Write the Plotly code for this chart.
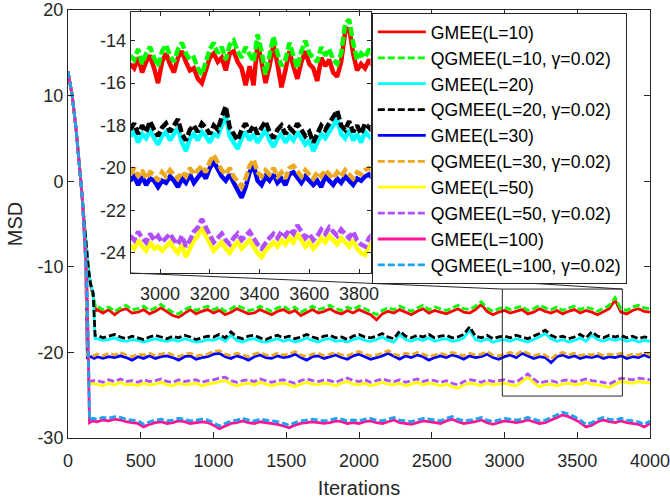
import plotly.graph_objects as go

FONT = "Liberation Sans, Arial, Helvetica, sans-serif"
AXC = "#262626"

# ---------------- data ----------------
main_iters = list(range(200, 4001, 40))      # steady-state samples (main axes)
inset_iters = list(range(2880, 3857, 16))    # finer samples (inset axes)

# transient part (iterations, values)
tr_x_10 = [0, 28, 55, 78, 96, 110, 125, 140, 155, 173, 190]
gmee10_tr = [12.8, 10.1, 6.2, 2.3, -1.5, -4.5, -7.5, -10.2, -12.0, -13.4, -15.2]
qgmee10_tr = [12.8, 10.1, 6.2, 2.3, -1.5, -4.5, -7.5, -10.2, -12.0, -13.3, -14.7]
tr_x_20 = [0, 28, 55, 78, 96, 110, 125, 140, 155, 173, 186]
gmee20_tr = [12.8, 10.1, 6.2, 2.3, -1.5, -4.5, -7.5, -10.2, -12.0, -13.1, -18.4]
qgmee20_tr = [12.8, 10.1, 6.2, 2.3, -1.5, -4.5, -7.5, -10.2, -12.0, -13.1, -18.0]
tr_x_30 = [0, 28, 55, 78, 96, 110, 121, 133, 160, 180]
gmee30_tr = [12.8, 10.1, 6.2, 2.3, -1.5, -5.4, -9.3, -20.6, -20.5, -20.7]
qgmee30_tr = [12.8, 10.1, 6.2, 2.3, -1.5, -5.4, -9.3, -20.3, -20.2, -20.4]
tr_x_50 = [0, 28, 55, 78, 96, 110, 121, 135, 145, 170]
gmee50_tr = [12.8, 10.1, 6.2, 2.3, -1.5, -5.4, -9.3, -16.5, -23.8, -23.6]
qgmee50_tr = [12.8, 10.1, 6.2, 2.3, -1.5, -5.4, -9.3, -16.3, -23.4, -23.3]
tr_x_100 = [0, 28, 55, 78, 96, 110, 121, 130, 148, 170]
gmee100_tr = [12.8, 10.1, 6.2, 2.3, -1.5, -5.4, -9.3, -12.0, -28.2, -28.0]
qgmee100_tr = [12.8, 10.1, 6.2, 2.3, -1.5, -5.4, -9.3, -12.0, -27.9, -27.7]

# steady state, main axes (iterations 200..4000 step 40)
qgmee10_main = [
    -14.6, -15.0, -14.7, -15.2, -14.8, -14.5, -15.0, -14.9, -14.6, -15.1,
    -14.8, -14.4, -14.9, -15.3, -15.5, -15.0, -14.7, -15.1, -14.8, -14.6,
    -15.0, -14.7, -15.2, -14.9, -14.5, -14.8, -15.1, -15.0, -14.6, -14.9,
    -15.2, -14.8, -14.6, -15.0, -14.7, -15.3, -14.9, -14.6, -15.0, -14.8,
    -14.5, -14.9, -15.1, -14.7, -15.0, -14.6, -14.9, -15.2, -15.6, -15.1,
    -14.8, -15.0, -14.6, -14.9, -15.2, -14.8, -14.5, -15.0, -14.7, -14.9,
    -15.1, -14.8, -14.5, -14.9, -15.0, -14.6, -14.1, -14.8, -15.2, -14.9,
    -14.7, -15.0, -14.8, -14.6, -15.1, -14.9, -14.5, -14.8, -15.0, -14.7,
    -15.1, -14.8, -14.6, -15.0, -14.7, -14.9, -15.2, -14.8, -14.5, -13.6,
    -14.9, -15.1, -14.7, -14.5, -14.8, -14.9]
gmee10_main = [
    -15.0, -15.4, -15.0, -15.6, -15.1, -14.9, -15.4, -15.3, -15.0, -15.5,
    -15.2, -14.8, -15.3, -15.7, -15.9, -15.4, -15.0, -15.5, -15.2, -15.0,
    -15.4, -15.1, -15.6, -15.3, -14.9, -15.2, -15.5, -15.4, -15.0, -15.3,
    -15.6, -15.2, -15.0, -15.4, -15.1, -15.7, -15.3, -15.0, -15.4, -15.2,
    -14.9, -15.3, -15.5, -15.1, -15.4, -15.0, -15.3, -15.6, -16.2, -15.5,
    -15.2, -15.4, -15.0, -15.3, -15.6, -15.2, -14.9, -15.4, -15.1, -15.3,
    -15.5, -15.2, -14.9, -15.3, -15.4, -15.0, -14.4, -15.2, -15.6, -15.3,
    -15.1, -15.4, -15.2, -15.0, -15.5, -15.3, -14.9, -15.2, -15.4, -15.1,
    -15.5, -15.2, -15.0, -15.4, -15.1, -15.3, -15.6, -15.2, -14.9, -13.9,
    -15.3, -15.5, -15.1, -14.9, -15.2, -15.3]
qgmee20_main = [
    -18.0, -18.3, -18.1, -17.9, -18.2, -18.4, -18.1, -18.3, -18.5, -18.2,
    -18.0, -18.2, -18.4, -18.1, -18.3, -18.0, -18.2, -18.5, -18.3, -18.1,
    -18.2, -17.9, -18.3, -17.6, -18.2, -18.4, -18.1, -18.0, -18.3, -18.5,
    -18.2, -18.0, -18.3, -18.1, -18.4, -18.2, -17.9, -18.2, -18.4, -18.1,
    -18.0, -18.3, -18.2, -18.5, -18.1, -17.9, -18.2, -18.3, -18.1, -17.8,
    -18.2, -18.4, -17.5, -18.1, -18.3, -18.0, -18.2, -17.9, -18.3, -18.1,
    -18.0, -18.3, -18.2, -17.9, -17.0, -18.1, -18.3, -18.0, -18.4, -18.2,
    -18.1, -18.3, -18.0, -18.2, -18.4, -18.1, -17.8, -17.4, -18.0, -18.3,
    -18.1, -18.4, -18.2, -17.9, -18.3, -17.6, -18.1, -18.3, -18.0, -18.2,
    -18.0, -18.3, -18.1, -18.4, -18.2, -18.3]
gmee20_main = [
    -18.4, -18.6, -18.5, -18.3, -18.6, -18.7, -18.5, -18.6, -18.8, -18.6,
    -18.4, -18.6, -18.7, -18.5, -18.7, -18.4, -18.6, -18.8, -18.7, -18.5,
    -18.6, -18.3, -18.7, -18.0, -18.6, -18.8, -18.5, -18.4, -18.7, -18.8,
    -18.6, -18.4, -18.7, -18.5, -18.8, -18.6, -18.3, -18.6, -18.8, -18.5,
    -18.4, -18.7, -18.6, -18.8, -18.5, -18.3, -18.6, -18.7, -18.5, -18.2,
    -18.6, -18.8, -17.9, -18.5, -18.7, -18.4, -18.6, -18.3, -18.7, -18.5,
    -18.4, -18.7, -18.6, -18.3, -17.4, -18.5, -18.7, -18.4, -18.8, -18.6,
    -18.5, -18.7, -18.4, -18.6, -18.8, -18.5, -18.2, -17.8, -18.4, -18.7,
    -18.5, -18.8, -18.6, -18.3, -18.7, -18.0, -18.5, -18.7, -18.4, -18.6,
    -18.4, -18.7, -18.5, -18.8, -18.6, -18.7]
qgmee30_main = [
    -20.2, -20.4, -20.1, -20.3, -20.0, -20.3, -20.5, -20.2, -20.3, -20.1,
    -20.4, -20.2, -20.0, -20.3, -20.5, -20.2, -20.1, -20.4, -20.3, -20.2,
    -19.9, -19.8, -20.2, -20.4, -20.1, -20.3, -20.5, -20.2, -20.0, -20.3,
    -20.4, -20.1, -20.3, -20.2, -19.9, -20.3, -20.5, -20.2, -20.1, -20.4,
    -20.2, -20.0, -20.3, -20.4, -20.1, -19.9, -20.2, -20.4, -20.3, -20.1,
    -19.8, -20.2, -20.4, -20.1, -20.3, -20.0, -20.2, -20.5, -20.3, -20.1,
    -20.3, -20.0, -20.2, -20.4, -20.1, -20.3, -20.2, -19.9, -20.3, -20.4,
    -20.2, -20.0, -20.3, -19.8, -20.1, -20.4, -20.2, -20.3, -20.8, -20.2,
    -20.0, -20.3, -20.1, -20.4, -20.2, -20.3, -20.1, -20.4, -20.2, -20.3,
    -20.1, -20.4, -20.2, -20.3, -20.0, -20.3]
gmee30_main = [
    -20.5, -20.7, -20.5, -20.6, -20.4, -20.6, -20.9, -20.5, -20.7, -20.4,
    -20.7, -20.5, -20.4, -20.6, -20.9, -20.5, -20.4, -20.8, -20.6, -20.5,
    -20.2, -20.1, -20.5, -20.7, -20.4, -20.6, -20.9, -20.5, -20.3, -20.6,
    -20.7, -20.4, -20.6, -20.5, -20.2, -20.6, -20.9, -20.5, -20.4, -20.7,
    -20.5, -20.3, -20.6, -20.8, -20.4, -20.2, -20.5, -20.8, -20.6, -20.4,
    -20.1, -20.5, -20.8, -20.4, -20.6, -20.3, -20.5, -20.9, -20.6, -20.4,
    -20.6, -20.3, -20.5, -20.8, -20.4, -20.6, -20.5, -20.2, -20.6, -20.8,
    -20.5, -20.3, -20.6, -20.1, -20.4, -20.7, -20.5, -20.6, -21.2, -20.5,
    -20.3, -20.6, -20.4, -20.7, -20.5, -20.6, -20.4, -20.7, -20.5, -20.6,
    -20.4, -20.7, -20.5, -20.6, -20.3, -20.6]
qgmee50_main = [
    -23.3, -23.5, -23.2, -23.4, -23.1, -23.4, -23.3, -23.5, -23.2, -23.4,
    -23.3, -23.1, -23.4, -23.5, -23.2, -23.4, -23.3, -23.2, -23.5, -23.3,
    -23.2, -23.0, -22.9, -23.3, -23.5, -23.3, -23.2, -23.4, -23.1, -23.3,
    -23.5, -23.3, -23.2, -23.4, -23.6, -23.3, -23.1, -23.3, -23.4, -23.2,
    -23.3, -23.5, -23.2, -23.0, -23.3, -23.4, -23.2, -23.5, -23.3, -23.1,
    -23.3, -23.4, -23.2, -23.5, -23.3, -23.1, -23.4, -23.2, -23.3, -23.5,
    -23.3, -23.6, -23.8, -23.4, -23.2, -23.3, -23.5, -23.2, -23.4, -23.3,
    -23.2, -23.4, -23.5, -23.0, -22.5, -23.1, -23.6, -23.4, -23.3, -23.5,
    -23.3, -23.2, -23.4, -23.3, -23.1, -23.3, -23.4, -23.5, -23.7, -23.3,
    -23.0, -23.1, -23.2, -23.0, -23.1, -23.2]
gmee50_main = [
    -23.7, -23.9, -23.6, -23.8, -23.5, -23.8, -23.7, -23.9, -23.6, -23.8,
    -23.7, -23.5, -23.8, -23.9, -23.6, -23.8, -23.7, -23.6, -23.9, -23.7,
    -23.6, -23.4, -23.3, -23.7, -23.9, -23.7, -23.6, -23.8, -23.5, -23.7,
    -23.9, -23.7, -23.6, -23.8, -24.0, -23.7, -23.5, -23.7, -23.8, -23.6,
    -23.7, -23.9, -23.6, -23.4, -23.7, -23.8, -23.6, -23.9, -23.7, -23.5,
    -23.7, -23.8, -23.6, -23.9, -23.7, -23.5, -23.8, -23.6, -23.7, -23.9,
    -23.7, -24.0, -24.2, -23.8, -23.6, -23.7, -23.9, -23.6, -23.8, -23.7,
    -23.6, -23.8, -23.9, -23.4, -22.9, -23.5, -24.0, -23.8, -23.7, -23.9,
    -23.7, -23.6, -23.8, -23.7, -23.5, -23.7, -23.8, -23.9, -24.1, -23.7,
    -23.4, -23.5, -23.6, -23.4, -23.5, -23.6]
qgmee100_main = [
    -27.8, -27.6, -27.7, -27.5, -27.6, -27.8, -27.9, -28.0, -28.4, -28.1,
    -27.9, -27.8, -28.0, -27.9, -27.7, -27.8, -28.0, -27.9, -27.8, -27.9,
    -28.2, -28.6, -28.3, -28.0, -27.9, -27.7, -27.9, -28.0, -27.8, -27.9,
    -28.0, -28.1, -28.3, -28.5, -28.2, -28.0, -27.9, -27.8, -27.9, -28.0,
    -27.9, -27.7, -27.8, -28.0, -27.9, -28.0, -27.8, -27.7, -27.9, -28.0,
    -27.8, -27.6, -27.9, -28.0, -28.1, -27.9, -27.7, -27.8, -27.9, -28.0,
    -27.7, -27.5, -27.8, -28.0, -27.9, -27.8, -27.6, -27.9, -28.1, -27.9,
    -27.7, -27.8, -27.9, -27.8, -27.6, -27.8, -28.0, -27.9, -27.6, -27.3,
    -27.0, -27.2, -27.5, -27.9, -28.4, -28.2, -27.8, -27.6, -27.8, -27.9,
    -27.7, -27.9, -28.0, -28.1, -28.4, -28.0]
gmee100_main = [
    -28.1, -27.9, -28.0, -27.8, -27.9, -28.1, -28.2, -28.3, -28.7, -28.4,
    -28.2, -28.1, -28.3, -28.2, -28.0, -28.1, -28.3, -28.2, -28.1, -28.2,
    -28.5, -28.9, -28.6, -28.3, -28.2, -28.0, -28.2, -28.3, -28.1, -28.2,
    -28.3, -28.4, -28.6, -28.8, -28.5, -28.3, -28.2, -28.1, -28.2, -28.3,
    -28.2, -28.0, -28.1, -28.3, -28.2, -28.3, -28.1, -28.0, -28.2, -28.3,
    -28.1, -27.9, -28.2, -28.3, -28.4, -28.2, -28.0, -28.1, -28.2, -28.3,
    -28.0, -27.8, -28.1, -28.3, -28.2, -28.1, -27.9, -28.2, -28.4, -28.2,
    -28.0, -28.1, -28.2, -28.1, -27.9, -28.1, -28.3, -28.2, -27.9, -27.6,
    -27.3, -27.5, -27.8, -28.2, -28.7, -28.5, -28.1, -27.9, -28.1, -28.2,
    -28.0, -28.2, -28.3, -28.4, -28.7, -28.3]

# inset (iterations 2880..3856 step 16)
qgmee10_inset = [
    -14.7, -14.9, -14.4, -15.1, -14.6, -14.3, -14.8, -15.2, -14.5, -14.2,
    -14.7, -15.0, -14.4, -14.1, -14.6, -14.9, -14.8, -15.3, -15.6, -14.9,
    -14.4, -14.1, -14.6, -14.3, -14.9, -14.2, -14.0, -14.5, -14.8, -14.3,
    -14.7, -15.0, -13.7, -14.5, -15.6, -14.8, -13.8, -14.6, -15.2, -14.9,
    -14.1, -14.7, -15.3, -14.5, -14.0, -14.6, -14.8, -15.0, -14.3, -14.7,
    -14.4, -14.9, -15.1, -14.6, -13.2, -13.0, -14.1, -14.9, -14.6, -14.8,
    -14.4, -14.7]
gmee10_inset = [
    -15.1, -15.3, -14.8, -15.5, -15.0, -14.7, -15.3, -16.0, -15.0, -14.6,
    -15.1, -15.5, -14.8, -14.5, -15.0, -15.4, -15.3, -15.8, -16.0, -15.3,
    -14.8, -14.6, -15.0, -14.8, -15.4, -14.6, -14.5, -15.0, -15.3, -16.1,
    -15.2, -16.1, -14.1, -15.0, -16.0, -15.2, -14.2, -15.1, -16.2, -15.4,
    -14.5, -15.2, -15.8, -15.0, -14.5, -15.1, -15.3, -15.9, -14.8, -15.2,
    -14.9, -15.5, -15.7, -15.0, -13.6, -13.4, -14.6, -15.4, -15.1, -15.3,
    -14.9, -15.2]
qgmee20_inset = [
    -18.2, -17.9, -18.4, -18.0, -18.3, -17.8, -18.2, -18.5, -18.1, -17.9,
    -18.3, -18.0, -17.7, -18.4, -18.7, -18.2, -18.0, -18.3, -17.9, -18.1,
    -18.4, -18.0, -18.2, -17.6, -17.1, -18.1, -18.4, -18.7, -18.2, -17.9,
    -18.3, -18.0, -18.4, -18.1, -17.8, -18.3, -18.6, -18.2, -18.0, -18.4,
    -18.1, -18.3, -17.9, -18.2, -18.5, -18.3, -18.8, -18.4, -18.0, -18.2,
    -17.9, -17.6, -17.3, -18.0, -18.2, -17.8, -18.3, -18.0, -18.4, -17.9,
    -18.1, -18.3]
gmee20_inset = [
    -18.5, -18.3, -18.8, -18.4, -18.6, -18.2, -18.6, -18.9, -18.5, -18.3,
    -18.7, -18.4, -18.1, -18.8, -19.2, -18.6, -18.4, -18.7, -18.3, -18.5,
    -18.8, -18.4, -18.5, -18.0, -17.5, -18.5, -18.8, -19.1, -18.6, -18.3,
    -18.7, -18.4, -18.8, -18.5, -18.2, -18.7, -19.0, -18.6, -18.4, -18.8,
    -18.5, -18.7, -18.3, -18.6, -18.9, -18.7, -19.2, -18.8, -18.4, -18.6,
    -18.3, -18.0, -17.7, -18.4, -18.6, -18.2, -18.7, -18.4, -18.8, -18.3,
    -18.5, -18.7]
qgmee30_inset = [
    -20.3, -20.0, -20.4, -20.1, -20.5, -20.2, -20.3, -20.6, -20.2, -20.4,
    -20.1, -20.3, -20.5, -20.2, -20.4, -20.0, -20.3, -20.1, -19.9, -20.2,
    -19.7, -19.4, -19.8, -20.1, -20.3, -20.0, -20.4, -20.7, -20.9, -20.5,
    -19.9, -19.6, -20.2, -20.4, -20.1, -20.3, -20.0, -20.4, -20.2, -20.5,
    -20.0, -19.9, -20.2, -20.4, -20.1, -20.3, -20.5, -20.2, -20.4, -20.1,
    -20.3, -20.5, -20.2, -20.4, -20.1, -20.3, -20.5, -20.2, -20.3, -20.1,
    -20.0, -20.2]
gmee30_inset = [
    -20.6, -20.4, -20.8, -20.4, -20.8, -20.5, -20.6, -20.9, -20.6, -20.7,
    -20.4, -20.6, -20.9, -20.5, -20.7, -20.3, -20.7, -20.4, -20.2, -20.5,
    -20.0, -19.7, -20.1, -20.4, -20.6, -20.3, -20.7, -21.0, -21.4, -20.9,
    -20.2, -19.9, -20.6, -20.8, -20.4, -20.6, -20.3, -20.7, -20.5, -20.8,
    -20.3, -20.2, -20.5, -20.7, -20.4, -20.6, -20.8, -20.6, -20.9, -20.4,
    -20.6, -20.8, -20.5, -20.7, -20.4, -20.6, -20.8, -20.5, -20.6, -20.4,
    -20.3, -20.5]
qgmee50_inset = [
    -23.2, -23.4, -23.0, -23.3, -23.5, -23.1, -23.4, -23.2, -23.5, -23.3,
    -23.1, -23.4, -23.6, -23.2, -23.7, -23.4, -23.0, -22.8, -22.4, -22.8,
    -23.2, -23.5, -23.3, -23.1, -23.4, -23.6, -23.3, -23.1, -23.4, -23.2,
    -23.0, -23.3, -23.6, -23.8, -23.5, -23.3, -23.1, -23.3, -23.0, -23.2,
    -22.9, -23.1, -22.7, -23.0, -23.3, -23.1, -23.4, -23.2, -22.9, -23.1,
    -22.8, -23.0, -23.2, -22.9, -23.1, -23.3, -23.0, -23.4, -23.6, -23.7,
    -23.3, -23.1]
gmee50_inset = [
    -23.7, -23.8, -23.4, -23.7, -23.9, -23.5, -23.8, -23.7, -23.9, -23.7,
    -23.5, -23.8, -24.0, -23.6, -24.2, -23.8, -23.4, -23.2, -22.8, -23.2,
    -23.6, -23.9, -23.7, -23.5, -23.8, -24.0, -23.7, -23.5, -23.8, -23.6,
    -23.4, -23.7, -24.0, -24.2, -23.9, -23.7, -23.5, -23.7, -23.4, -23.6,
    -23.3, -23.5, -23.1, -23.4, -23.7, -23.5, -23.8, -23.6, -23.3, -23.5,
    -23.2, -23.4, -23.6, -23.3, -23.5, -23.7, -23.4, -23.8, -24.0, -24.1,
    -23.7, -23.5]

names = ["GMEE(L=10)", "QGMEE(L=10, γ=0.02)", "GMEE(L=20)", "QGMEE(L=20, γ=0.02)",
         "GMEE(L=30)", "QGMEE(L=30, γ=0.02)", "GMEE(L=50)", "QGMEE(L=50, γ=0.02)",
         "GMEE(L=100)", "QGMEE(L=100, γ=0.02)"]
colors = ["#FF0000", "#00FF00", "#00FFFF", "#000000", "#0000FF",
          "#EDA822", "#FFFF00", "#B24EFF", "#FF1493", "#1CA2F2"]

# axis settings
x_ticks = [0, 500, 1000, 1500, 2000, 2500, 3000, 3500, 4000]
y_ticks = [-30, -20, -10, 0, 10, 20]
inset_xticks = [3000, 3200, 3400, 3600, 3800]
inset_yticks = [-24, -22, -20, -18, -16, -14]
X_RANGE = [0, 4000]
Y_RANGE = [-30, 20]
INSET_XRANGE = [2882, 3846]
INSET_YRANGE = [-24.95, -12.65]
INSET_DOM_X = [0.1077, 0.5198]
INSET_DOM_Y = [0.3855, 0.9953]
ZOOM_BOX = [2985, 3810, -25.1, -12.6]

series = [
    (tr_x_10, gmee10_tr, gmee10_main, gmee10_inset),
    (tr_x_10, qgmee10_tr, qgmee10_main, qgmee10_inset),
    (tr_x_20, gmee20_tr, gmee20_main, gmee20_inset),
    (tr_x_20, qgmee20_tr, qgmee20_main, qgmee20_inset),
    (tr_x_30, gmee30_tr, gmee30_main, gmee30_inset),
    (tr_x_30, qgmee30_tr, qgmee30_main, qgmee30_inset),
    (tr_x_50, gmee50_tr, gmee50_main, gmee50_inset),
    (tr_x_50, qgmee50_tr, qgmee50_main, qgmee50_inset),
    (tr_x_100, gmee100_tr, gmee100_main, None),
    (tr_x_100, qgmee100_tr, qgmee100_main, None),
]

fig = go.Figure()
for k, (trx, tr, mainv, insv) in enumerate(series):
    dashed = names[k].startswith("QGMEE")
    fig.add_trace(go.Scatter(
        x=trx + main_iters, y=tr + mainv, mode="lines", name=names[k],
        line=dict(color=colors[k], width=2.8, dash="7px,3px" if dashed else "solid"),
        xaxis="x", yaxis="y", showlegend=True))
for k, (trx, tr, mainv, insv) in enumerate(series):
    if insv is None:
        continue
    dashed = names[k].startswith("QGMEE")
    fig.add_trace(go.Scatter(
        x=inset_iters, y=insv, mode="lines", name=names[k],
        line=dict(color=colors[k], width=4.5, dash="9px,3px" if dashed else "solid"),
        xaxis="x2", yaxis="y2", showlegend=False))

def fmt(v):
    return str(v).replace("\u2212", "-")

axis_common = dict(showgrid=False, zeroline=False, showline=True, linecolor=AXC,
                   linewidth=1, mirror="ticks", ticks="inside", tickcolor=AXC,
                   ticklabeloverflow="allow", automargin=False,
                   tickfont=dict(family=FONT, size=18, color=AXC))

fig.update_layout(
    width=670, height=502,
    margin=dict(l=68, r=20, t=10, b=64, autoexpand=False),
    paper_bgcolor="white", plot_bgcolor="white",
    font=dict(family=FONT, color=AXC),
    xaxis=dict(range=X_RANGE, tickvals=x_ticks, ticktext=[fmt(v) for v in x_ticks],
               ticklen=6, ticklabelstandoff=6,
               title=dict(text="Iterations", font=dict(size=20, color=AXC), standoff=11),
               **axis_common),
    yaxis=dict(range=Y_RANGE, tickvals=y_ticks, ticktext=[fmt(v) for v in y_ticks],
               ticklen=6, title=dict(text="MSD", font=dict(size=20, color=AXC), standoff=9),
               **axis_common),
    xaxis2=dict(domain=INSET_DOM_X, anchor="y2", range=INSET_XRANGE, tickvals=inset_xticks,
                ticktext=[fmt(v) for v in inset_xticks], ticklen=4, ticklabelstandoff=4,
                **axis_common),
    yaxis2=dict(domain=INSET_DOM_Y, anchor="x2", range=INSET_YRANGE, tickvals=inset_yticks,
                ticktext=[fmt(v) for v in inset_yticks], ticklen=4, **axis_common),
    legend=dict(x=0.522, y=0.993, xanchor="left", yanchor="top",
                bgcolor="white", bordercolor=AXC, borderwidth=1,
                font=dict(family=FONT, size=17.6, color="black"),
                itemwidth=48, tracegroupgap=0),
    showlegend=True,
)

# zoom rectangle and connectors (main data coordinates)
bx0, bx1, by0, by1 = ZOOM_BOX
ins_left = X_RANGE[0] + INSET_DOM_X[0] * (X_RANGE[1] - X_RANGE[0])
ins_right = X_RANGE[0] + INSET_DOM_X[1] * (X_RANGE[1] - X_RANGE[0])
ins_bottom = Y_RANGE[0] + INSET_DOM_Y[0] * (Y_RANGE[1] - Y_RANGE[0])
line_style = dict(color=AXC, width=1)
fig.add_shape(type="rect", xref="x", yref="y", x0=bx0, x1=bx1, y0=by0, y1=by1,
              line=line_style, layer="above")
fig.add_shape(type="line", xref="x", yref="y", x0=ins_left, y0=ins_bottom, x1=bx0, y1=by1,
              line=line_style, layer="above")
fig.add_shape(type="line", xref="x", yref="y", x0=ins_right, y0=ins_bottom, x1=bx1, y1=by1,
              line=line_style, layer="above")

fig.write_html("out.html", config={"displayModeBar": False},
               post_script="document.body.style.margin='0';")
